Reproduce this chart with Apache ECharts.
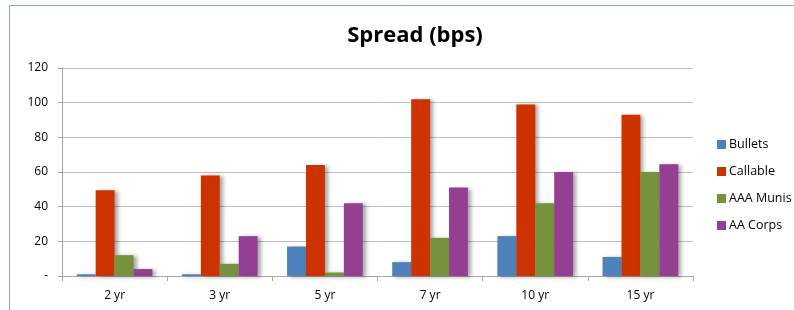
<!DOCTYPE html>
<html>
<head>
<meta charset="utf-8">
<script src="https://cdn.jsdelivr.net/npm/echarts@6/dist/echarts.min.js"></script>
<style>
  html, body { margin: 0; padding: 0; background: #fff; }
  #chart { width: 794px; height: 310px; }
</style>
</head>
<body>
<div id="chart"></div>
<script>
// data
const categories = ["2 yr", "3 yr", "5 yr", "7 yr", "10 yr", "15 yr"];
const bullets = [1, 1, 17, 8, 23, 11];
const callable = [49.5, 58, 64, 102, 99, 93];
const aaaMunis = [12, 7, 2, 22, 42, 60];
const aaCorps = [4, 23, 42, 51, 60, 64.5];
const yTicks = { min: 0, max: 120, interval: 20 };

const chart = echarts.init(document.getElementById("chart"));

const barShadow = {
  shadowColor: "rgba(0,0,0,0.35)",
  shadowBlur: 4,
  shadowOffsetX: 3,
  shadowOffsetY: 1,
};

const makeSeries = (name, data, color) => ({
  name: name,
  type: "bar",
  data: data,
  barGap: "0%",
  barCategoryGap: "28%",
  itemStyle: Object.assign({ color: color }, barShadow),
  emphasis: { disabled: true },
});

const option = {
  animation: false,
  textStyle: { fontFamily: "Open Sans, Liberation Sans, sans-serif" },
  title: {
    text: "Spread (bps)",
    left: 410,
    top: 20,
    textAlign: "center",
    textStyle: {
      fontSize: 22,
      fontWeight: "bold",
      color: "#000",
      fontFamily: "Open Sans, Liberation Sans, sans-serif",
    },
  },
  legend: {
    orient: "vertical",
    left: 712,
    top: 133,
    itemWidth: 9,
    itemHeight: 9,
    itemGap: 14,
    icon: "rect",
    textStyle: { fontSize: 12.5, color: "#000", padding: [0, 0, 0, -2] },
    data: ["Bullets", "Callable", "AAA Munis", "AA Corps"],
  },
  grid: { left: 62, right: 101, top: 68, bottom: 34 },
  xAxis: {
    type: "category",
    data: categories,
    axisLine: { lineStyle: { color: "#a6a6a6", width: 1 } },
    axisTick: { show: true, length: 5, lineStyle: { color: "#a6a6a6" } },
    axisLabel: { color: "#000", fontSize: 12, margin: 14 },
  },
  yAxis: {
    type: "value",
    min: yTicks.min,
    max: yTicks.max,
    interval: yTicks.interval,
    axisLine: { show: true, lineStyle: { color: "#a6a6a6" } },
    axisTick: { show: true, length: 4, lineStyle: { color: "#a6a6a6" } },
    axisLabel: {
      color: "#000",
      fontSize: 12,
      margin: 14,
      formatter: (v) => (v === 0 ? "-" : v),
    },
    splitLine: { lineStyle: { color: "#bfbfbf", width: 1 } },
  },
  graphic: [
    {
      type: "polyline",
      shape: { points: [[9.5, 310], [9.5, 5.5], [794, 5.5]] },
      style: { stroke: "#7ea6d8", lineWidth: 1, fill: null },
      silent: true,
    },
  ],
  series: [
    makeSeries("Bullets", bullets, "#4f81bd"),
    makeSeries("Callable", callable, "#cc3300"),
    makeSeries("AAA Munis", aaaMunis, "#76923c"),
    makeSeries("AA Corps", aaCorps, "#953f92"),
  ],
};

chart.setOption(option);
</script>
</body>
</html>
